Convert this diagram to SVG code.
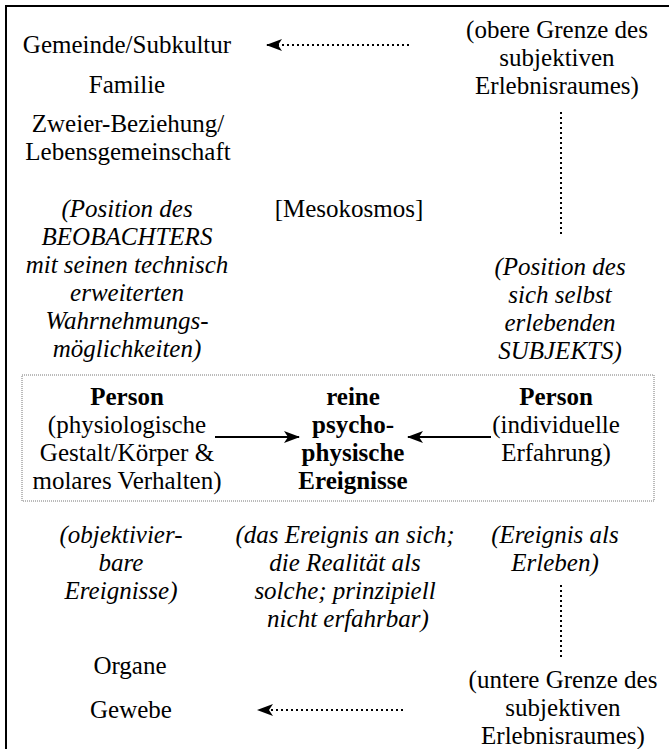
<svg xmlns="http://www.w3.org/2000/svg" width="669" height="749" viewBox="0 0 669 749">
<style>
text{font-family:"Liberation Serif","Times New Roman",Times,serif;font-size:25px;fill:#000;text-anchor:middle}
.i{font-style:italic}
.b{font-weight:bold}
.dot{stroke:#000;stroke-width:2;stroke-dasharray:2 3;fill:none}
.solid{stroke:#000;stroke-width:2;fill:none}
</style>
<defs>
<marker id="ah" viewBox="0 0 16 12" refX="15" refY="6" markerWidth="16" markerHeight="12" markerUnits="userSpaceOnUse" orient="auto">
<path d="M0,0 L16,6 L0,12 L4,6 Z" fill="#000"/>
</marker>
</defs>
<g id="frame">
<path d="M6,749 L6,6 L669,6" fill="none" stroke="#000" stroke-width="2"/>
<rect x="22" y="375" width="632" height="126" fill="none" stroke="#777" stroke-width="1" stroke-dasharray="1 1"/>
</g>
<g id="top-left">
<text x="127" y="53">Gemeinde/Subkultur</text>
<text x="127" y="93">Familie</text>
<text x="128" y="132">Zweier-Beziehung/</text>
<text x="128" y="160">Lebensgemeinschaft</text>
</g>
<g id="mesokosmos"><text x="349" y="217">[Mesokosmos]</text></g>
<g id="beobachter">
<text class="i" x="127" y="217">(Position des</text>
<text class="i" x="127" y="245">BEOBACHTERS</text>
<text class="i" x="127" y="273">mit seinen technisch</text>
<text class="i" x="127" y="301">erweiterten</text>
<text class="i" x="127" y="329">Wahrnehmungs-</text>
<text class="i" x="127" y="357">möglichkeiten)</text>
</g>
<g id="obere-grenze">
<text x="557" y="38">(obere Grenze des</text>
<text x="557" y="66">subjektiven</text>
<text x="557" y="94">Erlebnisraumes)</text>
</g>
<g id="subjekt">
<text class="i" x="560" y="275">(Position des</text>
<text class="i" x="560" y="303">sich selbst</text>
<text class="i" x="560" y="331">erlebenden</text>
<text class="i" x="560" y="359">SUBJEKTS)</text>
</g>
<g id="person-left">
<text class="b" x="127" y="405">Person</text>
<text x="127" y="433">(physiologische</text>
<text x="127" y="461">Gestalt/Körper &amp;</text>
<text x="127" y="489">molares Verhalten)</text>
</g>
<g id="reine">
<text class="b" x="353" y="405">reine</text>
<text class="b" x="353" y="433">psycho-</text>
<text class="b" x="353" y="461">physische</text>
<text class="b" x="353" y="489">Ereignisse</text>
</g>
<g id="person-right">
<text class="b" x="556" y="405">Person</text>
<text x="556" y="433">(individuelle</text>
<text x="556" y="461">Erfahrung)</text>
</g>
<g id="objektiv">
<text class="i" x="121" y="543">(objektivier-</text>
<text class="i" x="121" y="571">bare</text>
<text class="i" x="121" y="599">Ereignisse)</text>
</g>
<g id="ereignis">
<text class="i" x="345" y="543">(das Ereignis an sich;</text>
<text class="i" x="345" y="571">die Realität als</text>
<text class="i" x="345" y="599">solche; prinzipiell</text>
<text class="i" x="348" y="627">nicht erfahrbar)</text>
</g>
<g id="erleben">
<text class="i" x="555" y="543">(Ereignis als</text>
<text class="i" x="555" y="571">Erleben)</text>
</g>
<g id="bottom-left">
<text x="130" y="674">Organe</text>
<text x="131" y="718">Gewebe</text>
</g>
<g id="untere-grenze">
<text x="563" y="688">(untere Grenze des</text>
<text x="563" y="716">subjektiven</text>
<text x="563" y="744">Erlebnisraumes)</text>
</g>
<g id="connectors">
<line class="dot" x1="409" y1="45" x2="267" y2="45" marker-end="url(#ah)"/>
<line class="dot" x1="561" y1="112" x2="561" y2="235"/>
<line class="solid" x1="215" y1="437" x2="299" y2="437" marker-end="url(#ah)"/>
<line class="solid" x1="491" y1="437" x2="408" y2="437" marker-end="url(#ah)"/>
<line class="dot" x1="561" y1="585" x2="561" y2="660"/>
<line class="dot" x1="403" y1="710" x2="258" y2="710" marker-end="url(#ah)"/>
</g>
</svg>
